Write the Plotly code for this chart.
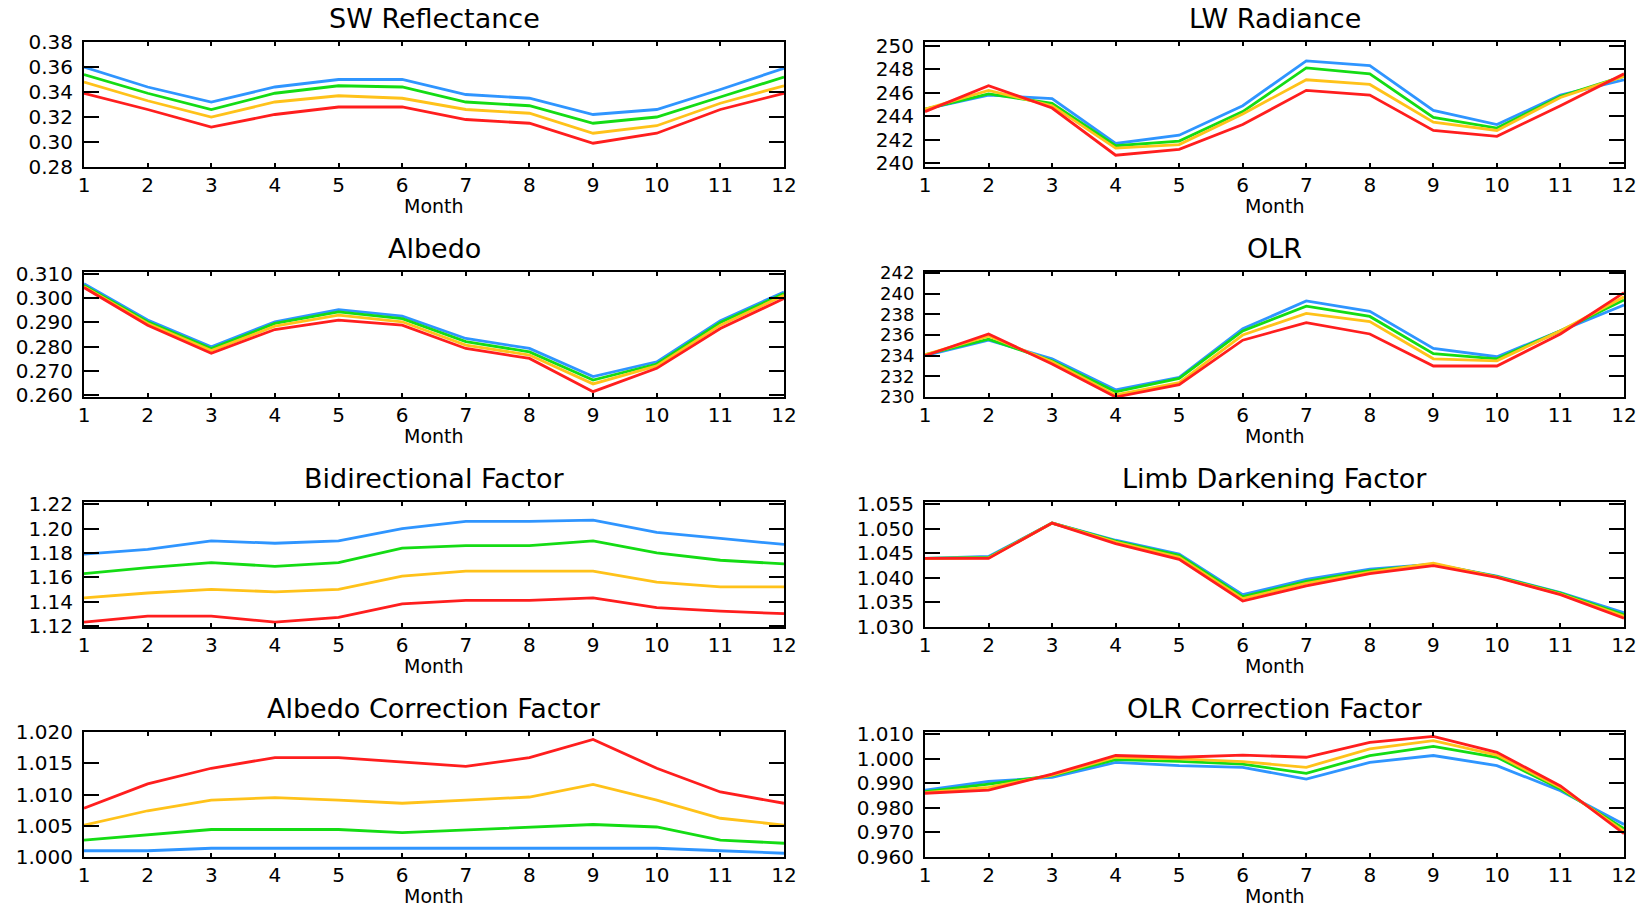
import plotly.graph_objects as go

months = list(range(1, 13))
month_labels = [str(m) for m in months]

series_names = ["Series 1", "Series 2", "Series 3", "Series 4"]
series_colors = ["#2f95ff", "#14dc14", "#ffc21a", "#ff1e1e"]

# SW Reflectance
sw_blue = [0.360, 0.344, 0.332, 0.344, 0.350, 0.350, 0.338, 0.335, 0.322, 0.326, 0.342, 0.359]
sw_green = [0.354, 0.339, 0.326, 0.339, 0.345, 0.344, 0.332, 0.329, 0.315, 0.320, 0.336, 0.352]
sw_yellow = [0.348, 0.333, 0.320, 0.332, 0.337, 0.335, 0.326, 0.323, 0.307, 0.313, 0.331, 0.345]
sw_red = [0.339, 0.326, 0.312, 0.322, 0.328, 0.328, 0.318, 0.315, 0.299, 0.307, 0.326, 0.339]

# LW Radiance
lw_blue = [244.6, 245.8, 245.5, 241.7, 242.4, 244.9, 248.7, 248.3, 244.5, 243.3, 245.8, 247.1]
lw_green = [244.6, 245.9, 245.1, 241.5, 241.9, 244.4, 248.1, 247.6, 243.9, 243.0, 245.7, 247.4]
lw_yellow = [244.6, 246.2, 244.9, 241.3, 241.6, 244.2, 247.1, 246.7, 243.5, 242.8, 245.6, 247.4]
lw_red = [244.4, 246.6, 244.7, 240.7, 241.2, 243.3, 246.2, 245.8, 242.8, 242.3, 244.9, 247.6]

# Albedo
al_blue = [0.3060, 0.2910, 0.2800, 0.2903, 0.2953, 0.2926, 0.2834, 0.2793, 0.2677, 0.2738, 0.2907, 0.3026]
al_green = [0.3053, 0.2903, 0.2793, 0.2896, 0.2944, 0.2916, 0.2821, 0.2779, 0.2663, 0.2729, 0.2900, 0.3019]
al_yellow = [0.3047, 0.2896, 0.2784, 0.2885, 0.2930, 0.2903, 0.2807, 0.2766, 0.2647, 0.2721, 0.2889, 0.3012]
al_red = [0.3044, 0.2889, 0.2773, 0.2871, 0.2910, 0.2889, 0.2793, 0.2752, 0.2615, 0.2711, 0.2875, 0.2999]

# OLR
olr_blue = [234.0, 235.5, 233.7, 230.7, 231.9, 236.6, 239.3, 238.3, 234.7, 233.9, 236.4, 238.9]
olr_green = [234.1, 235.6, 233.5, 230.5, 231.8, 236.4, 238.8, 237.8, 234.2, 233.7, 236.4, 239.4]
olr_yellow = [234.1, 235.9, 233.4, 230.2, 231.4, 236.0, 238.1, 237.3, 233.7, 233.5, 236.4, 239.7]
olr_red = [234.0, 236.1, 233.2, 230.0, 231.2, 235.5, 237.2, 236.1, 233.0, 233.0, 236.1, 240.1]

# Bidirectional Factor
bd_blue = [1.179, 1.183, 1.190, 1.188, 1.190, 1.200, 1.206, 1.206, 1.207, 1.197, 1.192, 1.187]
bd_green = [1.163, 1.168, 1.172, 1.169, 1.172, 1.184, 1.186, 1.186, 1.190, 1.180, 1.174, 1.171]
bd_yellow = [1.143, 1.147, 1.150, 1.148, 1.150, 1.161, 1.165, 1.165, 1.165, 1.156, 1.152, 1.152]
bd_red = [1.123, 1.128, 1.128, 1.123, 1.127, 1.138, 1.141, 1.141, 1.143, 1.135, 1.132, 1.130]

# Limb Darkening Factor
ld_blue = [1.0440, 1.0444, 1.0512, 1.0477, 1.0449, 1.0366, 1.0397, 1.0418, 1.0428, 1.0404, 1.0370, 1.0329]
ld_green = [1.0440, 1.0442, 1.0512, 1.0475, 1.0446, 1.0362, 1.0393, 1.0415, 1.0428, 1.0403, 1.0369, 1.0325]
ld_yellow = [1.0440, 1.0441, 1.0512, 1.0473, 1.0442, 1.0358, 1.0389, 1.0412, 1.0430, 1.0402, 1.0367, 1.0322]
ld_red = [1.0440, 1.0440, 1.0512, 1.0470, 1.0438, 1.0353, 1.0384, 1.0409, 1.0425, 1.0401, 1.0366, 1.0318]

# Albedo Correction Factor
ac_blue = [1.0010, 1.0010, 1.0014, 1.0014, 1.0014, 1.0014, 1.0014, 1.0014, 1.0014, 1.0014, 1.0010, 1.0006]
ac_green = [1.0027, 1.0035, 1.0044, 1.0044, 1.0044, 1.0039, 1.0043, 1.0048, 1.0052, 1.0048, 1.0027, 1.0022]
ac_yellow = [1.0051, 1.0074, 1.0091, 1.0095, 1.0091, 1.0086, 1.0091, 1.0096, 1.0116, 1.0091, 1.0062, 1.0051]
ac_red = [1.0078, 1.0117, 1.0142, 1.0159, 1.0159, 1.0152, 1.0145, 1.0159, 1.0188, 1.0142, 1.0104, 1.0086]

# OLR Correction Factor
oc_blue = [0.9873, 0.9908, 0.9925, 0.9986, 0.9973, 0.9966, 0.9918, 0.9986, 1.0014, 0.9973, 0.9870, 0.9733]
oc_green = [0.9867, 0.9897, 0.9932, 0.9997, 0.9990, 0.9979, 0.9941, 1.0014, 1.0051, 1.0007, 0.9877, 0.9716]
oc_yellow = [0.9863, 0.9884, 0.9934, 1.0007, 1.0000, 0.9989, 0.9966, 1.0041, 1.0075, 1.0016, 0.9884, 0.9705]
oc_red = [0.9860, 0.9873, 0.9938, 1.0014, 1.0007, 1.0016, 1.0007, 1.0068, 1.0092, 1.0027, 0.9890, 0.9695]

panel_titles = ["SW Reflectance", "LW Radiance", "Albedo", "OLR",
                "Bidirectional Factor", "Limb Darkening Factor",
                "Albedo Correction Factor", "OLR Correction Factor"]
panel_data = [
    [sw_blue, sw_green, sw_yellow, sw_red],
    [lw_blue, lw_green, lw_yellow, lw_red],
    [al_blue, al_green, al_yellow, al_red],
    [olr_blue, olr_green, olr_yellow, olr_red],
    [bd_blue, bd_green, bd_yellow, bd_red],
    [ld_blue, ld_green, ld_yellow, ld_red],
    [ac_blue, ac_green, ac_yellow, ac_red],
    [oc_blue, oc_green, oc_yellow, oc_red],
]
panel_ranges = [[0.28, 0.38], [239.7, 250.3], [0.2593, 0.3108], [230.0, 242.1],
                [1.119, 1.222], [1.030, 1.0555], [1.000, 1.020], [0.960, 1.011]]
panel_ticks = [
    [0.28, 0.30, 0.32, 0.34, 0.36, 0.38],
    [240, 242, 244, 246, 248, 250],
    [0.26, 0.27, 0.28, 0.29, 0.30, 0.31],
    [230, 232, 234, 236, 238, 240, 242],
    [1.12, 1.14, 1.16, 1.18, 1.20, 1.22],
    [1.030, 1.035, 1.040, 1.045, 1.050, 1.055],
    [1.000, 1.005, 1.010, 1.015, 1.020],
    [0.96, 0.97, 0.98, 0.99, 1.00, 1.01],
]
panel_tickfmt = [".2f", "d", ".3f", "d", ".2f", ".3f", ".3f", ".3f"]
panel_tickfont = [20, 20, 20, 18, 20, 20, 20, 20]

W, H = 1644, 907
col_x = [(84, 784), (925, 1624)]
row_y = [(42, 167), (272, 397), (502, 627), (732, 857)]

FONT = "DejaVu Sans"
fig = go.Figure()
annotations = []
layout_axes = {}

for i in range(8):
    r, c = divmod(i, 2)
    x0, x1 = col_x[c]
    y0, y1 = row_y[r]
    xd = [x0 / W, x1 / W]
    yd = [1 - y1 / H, 1 - y0 / H]
    n = i + 1
    xa = "x" if n == 1 else f"x{n}"
    ya = "y" if n == 1 else f"y{n}"
    for vals, col, name in zip(panel_data[i], series_colors, series_names):
        fig.add_trace(go.Scatter(x=months, y=vals, mode="lines", name=name,
                                 line=dict(color=col, width=2.8),
                                 xaxis=xa, yaxis=ya, showlegend=False))
    xkey = "xaxis" if n == 1 else f"xaxis{n}"
    ykey = "yaxis" if n == 1 else f"yaxis{n}"
    layout_axes[xkey] = dict(domain=xd, anchor=ya, range=[1, 12], tickmode="array",
                             tickvals=months, ticktext=month_labels, automargin=False,
                             ticks="inside", ticklen=4, tickwidth=2, tickcolor="black",
                             showline=True, linecolor="black", linewidth=2, mirror="ticks",
                             showgrid=False, zeroline=False, ticklabelstandoff=-1,
                             ticklabeloverflow="allow",
                             tickfont=dict(family=FONT, size=20, color="black"))
    layout_axes[ykey] = dict(domain=yd, anchor=xa, range=panel_ranges[i], tickmode="array",
                             tickvals=panel_ticks[i], tickformat=panel_tickfmt[i],
                             automargin=False, ticklabeloverflow="allow",
                             ticks="inside", ticklen=15, tickwidth=2, tickcolor="black",
                             showline=True, linecolor="black", linewidth=2, mirror="ticks",
                             showgrid=False, zeroline=False, ticklabelstandoff=5,
                             tickfont=dict(family=FONT, size=panel_tickfont[i], color="black"))
    annotations.append(dict(text=panel_titles[i], x=(xd[0] + xd[1]) / 2, y=yd[1],
                            xref="paper", yref="paper", xanchor="center", yanchor="bottom",
                            yshift=6, showarrow=False,
                            font=dict(family=FONT, size=27, color="black")))
    annotations.append(dict(text="Month", x=(xd[0] + xd[1]) / 2, y=yd[0],
                            xref="paper", yref="paper", xanchor="center", yanchor="top",
                            yshift=-26, showarrow=False,
                            font=dict(family=FONT, size=19, color="black")))

fig.update_layout(**layout_axes)
fig.update_layout(annotations=annotations, plot_bgcolor="white", paper_bgcolor="white",
                  width=W, height=H, autosize=False,
                  margin=dict(l=0, r=0, t=0, b=0, autoexpand=False), showlegend=False)

fig.write_html("out.html",
               config={"displayModeBar": False},
               post_script="document.body.style.margin='0';"
                           "document.body.style.overflow='hidden';")
